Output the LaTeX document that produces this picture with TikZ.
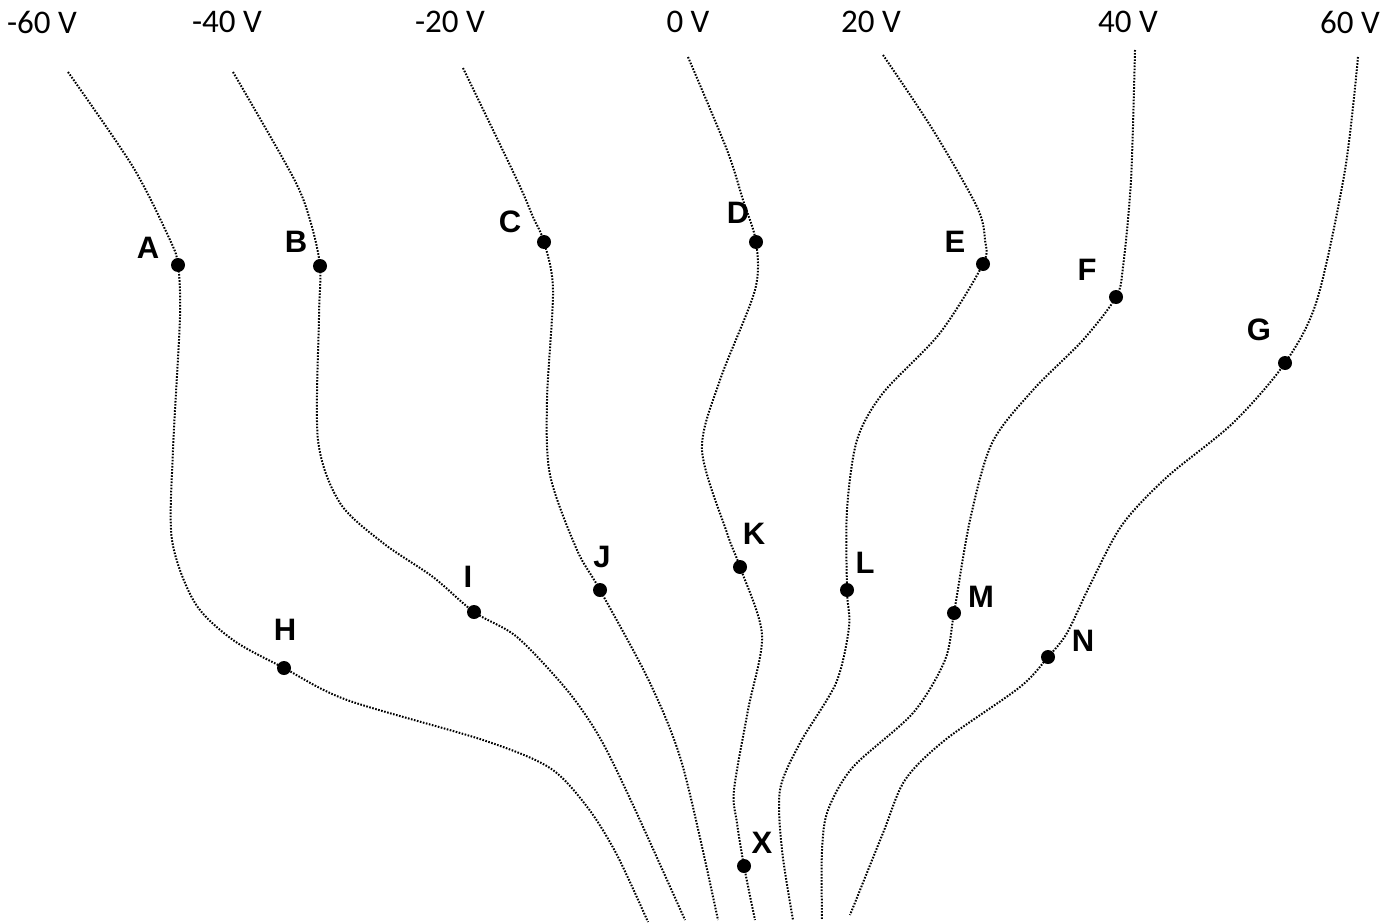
\documentclass[tikz,border=0pt]{standalone}
\usepackage{fontspec}
\setmainfont{Carlito}
\newfontfamily\lblfont{Liberation Sans}
\begin{document}
\begin{tikzpicture}[x=1pt,y=-1pt,
  eqline/.style={line width=2pt, dash pattern=on 1.6pt off 1.5pt},
  ptdot/.style={circle, fill=black, inner sep=0pt, minimum size=14pt},
  volt/.style={inner sep=0pt, font=\fontsize{33}{38}\selectfont},
  ptlbl/.style={inner sep=0pt, font=\lblfont\bfseries\fontsize{31}{36}\selectfont}]
\useasboundingbox[fill=white] (0,0) rectangle (1399,923);
% voltage labels
\node[volt] (v1) at (42,22) {-60 V};
\node[volt] (v2) at (227,22) {-40 V};
\node[volt] (v3) at (450,22) {-20 V};
\node[volt] (v4) at (688,22) {0 V};
\node[volt] (v5) at (871,22) {20 V};
\node[volt] (v6) at (1128,22) {40 V};
\node[volt] (v7) at (1350,22) {60 V};
% points
\node[ptdot] (A) at (178,265) {};
\node[ptdot] (B) at (320,266) {};
\node[ptdot] (C) at (544,242) {};
\node[ptdot] (D) at (756,242) {};
\node[ptdot] (E) at (983,264) {};
\node[ptdot] (F) at (1116,297) {};
\node[ptdot] (G) at (1285,363) {};
\node[ptdot] (H) at (284,668) {};
\node[ptdot] (I) at (474,612) {};
\node[ptdot] (J) at (600,590) {};
\node[ptdot] (K) at (740,567) {};
\node[ptdot] (L) at (847,590) {};
\node[ptdot] (M) at (954,613) {};
\node[ptdot] (N) at (1048,657) {};
\node[ptdot] (X) at (744,866) {};
% equipotential lines
\draw[eqline] plot[smooth] coordinates {(68,72) (133,167) (170,240) (A.center) (180,317) (173,450) (172,540) (195,603) (233,640) (H.center) (347,700) (483,740) (550,768) (588,808) (617,855) (648,922)};
\draw[eqline] plot[smooth] coordinates {(233,72) (293,177) (310,220) (B.center) (319,317) (318,440) (340,503) (383,543) (433,577) (I.center) (517,637) (567,690) (600,738) (633,805) (685,920)};
\draw[eqline] plot[smooth] coordinates {(463,68) (517,180) (533,217) (C.center) (553,290) (547,400) (550,475) (577,550) (J.center) (650,683) (683,767) (718,920)};
\draw[eqline] plot[smooth] coordinates {(688,57) (727,150) (743,200) (D.center) (755,290) (720,380) (702,450) (727,533) (K.center) (762,635) (748,710) (734,790) (737,823) (X.center) (755,920)};
\draw[eqline] plot[smooth] coordinates {(883,55) (933,130) (977,207) (985,240) (E.center) (940,333) (883,393) (857,440) (847,510) (L.center) (849,627) (836,683) (800,743) (780,790) (782,850) (793,920)};
\draw[eqline] plot[smooth] coordinates {(1135,50) (1131,180) (1123,267) (F.center) (1083,340) (1033,390) (992,443) (970,520) (M.center) (945,660) (913,713) (853,767) (828,810) (822,850) (822,920)};
\draw[eqline] plot[smooth] coordinates {(1358,57) (1345,170) (1317,300) (G.center) (1233,423) (1167,477) (1122,525) (1090,585) (1067,633) (N.center) (1020,687) (945,740) (905,780) (883,833) (850,915)};
% point labels
\node[ptlbl] (lA) at (148,248) {A};
\node[ptlbl] (lB) at (296,242) {B};
\node[ptlbl] (lC) at (510,222) {C};
\node[ptlbl] (lD) at (738,213) {D};
\node[ptlbl] (lE) at (955,242) {E};
\node[ptlbl] (lF) at (1087,270) {F};
\node[ptlbl] (lG) at (1259,330) {G};
\node[ptlbl] (lH) at (285,630) {H};
\node[ptlbl] (lI) at (468,577) {I};
\node[ptlbl] (lJ) at (602,557) {J};
\node[ptlbl] (lK) at (754,534) {K};
\node[ptlbl] (lL) at (865,563) {L};
\node[ptlbl] (lM) at (981,597) {M};
\node[ptlbl] (lN) at (1083,641) {N};
\node[ptlbl] (lX) at (762,843) {X};
\end{tikzpicture}
\end{document}
